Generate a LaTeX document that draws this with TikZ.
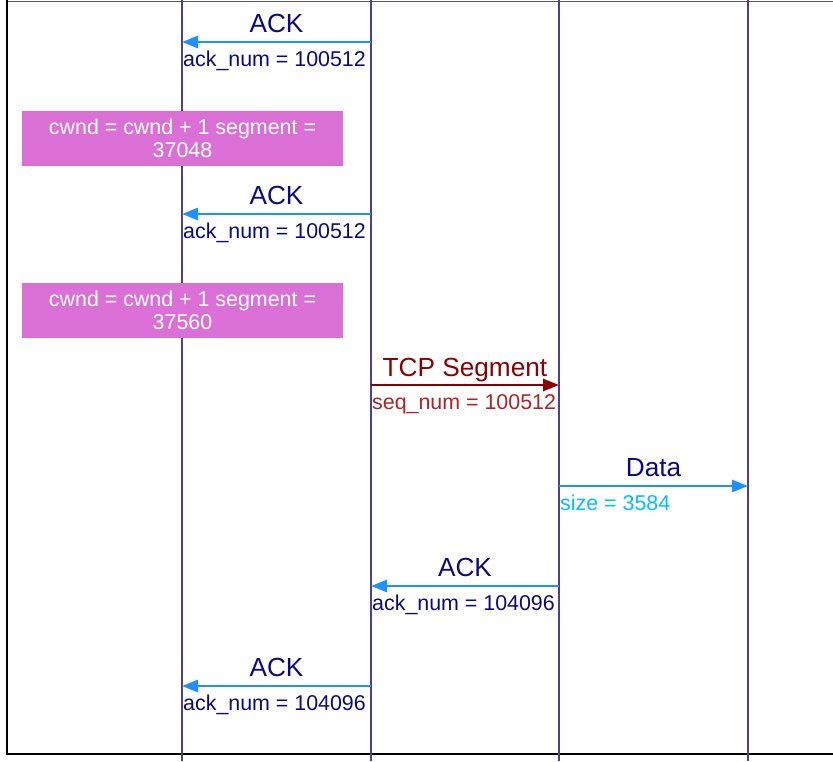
\documentclass[tikz,border=0pt]{standalone}
\usepackage{fontspec}
\setmainfont{Liberation Sans}
\usetikzlibrary{arrows.meta}
\definecolor{lifeblue}{HTML}{4B3F9A}
\definecolor{ackblue}{HTML}{1E90FF}
\definecolor{labnavy}{HTML}{0A0A80}
\definecolor{boxpink}{HTML}{DA70D6}
\definecolor{segred}{HTML}{8B0000}
\definecolor{seqred}{HTML}{B22222}
\definecolor{sizeblue}{HTML}{00BFFF}
\tikzset{
  lifeline/.style={draw=lifeblue, line width=1.8pt},
  msg/.style={line width=2.7pt, -{Triangle[length=16pt,width=12pt]}},
  bigtxt/.style={font=\fontsize{26.2}{31}\selectfont, inner sep=0pt, anchor=base},
  smalltxt/.style={font=\fontsize{21.4}{25}\selectfont, inner sep=0pt, anchor=base west},
  notebox/.style={fill=boxpink, text=white, inner sep=0pt, minimum width=321pt, minimum height=54.5pt, align=center, font=\fontsize{21.4}{22.5}\selectfont},
}
\begin{document}
\begin{tikzpicture}[x=1pt,y=-1pt]
\useasboundingbox (0,0) rectangle (833,761);
% frame
\coordinate (ftl) at (7,1);
\coordinate (ftr) at (833,1);
\coordinate (fbl) at (7,754);
\coordinate (fbr) at (833,754);
\draw[gray!70!black, line width=0.8pt] (ftl) -- (ftr);
\draw[black, line width=2.5pt] (7,0) -- (fbl) -- (fbr);
% lifelines
\foreach \n/\x in {A/182,B/371,C/559,D/748}{
  \coordinate (\n top) at (\x,0);
  \coordinate (\n bot) at (\x,761);
  \draw[lifeline] (\n top) -- (\n bot);
}
% message coordinates
\foreach \n/\x in {A/182,B/371,C/559,D/748}{
  \foreach \i/\y in {1/42,2/214,3/385,4/486,5/586,6/686}{
    \coordinate (\n\i) at (\x,\y);
  }
}
% ACK 1
\draw[msg, ackblue] (B1) -- (A1);
\node[bigtxt, text=labnavy] (l1) at (276.5,32) {ACK};
\node[smalltxt, text=labnavy] (s1) at (183,66.5) {ack\_num = 100512};
% box 1
\node[notebox] (n1) at (182.5,138.3) {cwnd = cwnd + 1 segment =\\37048};
% ACK 2
\draw[msg, ackblue] (B2) -- (A2);
\node[bigtxt, text=labnavy] (l2) at (276.5,204) {ACK};
\node[smalltxt, text=labnavy] (s2) at (183,238.5) {ack\_num = 100512};
% box 2
\node[notebox] (n2) at (182.5,310.3) {cwnd = cwnd + 1 segment =\\37560};
% TCP segment
\draw[msg, segred] (B3) -- (C3);
\node[bigtxt, text=segred] (l3) at (465,376) {TCP Segment};
\node[smalltxt, text=seqred] (s3) at (372,409) {seq\_num = 100512};
% Data
\draw[msg, ackblue] (C4) -- (D4);
\node[bigtxt, text=labnavy] (l4) at (653.5,476) {Data};
\node[smalltxt, text=sizeblue] (s4) at (560,510) {size = 3584};
% ACK 3
\draw[msg, ackblue] (C5) -- (B5);
\node[bigtxt, text=labnavy] (l5) at (465,576) {ACK};
\node[smalltxt, text=labnavy] (s5) at (372,610) {ack\_num = 104096};
% ACK 4
\draw[msg, ackblue] (B6) -- (A6);
\node[bigtxt, text=labnavy] (l6) at (276.5,676) {ACK};
\node[smalltxt, text=labnavy] (s6) at (183,710) {ack\_num = 104096};
\end{tikzpicture}
\end{document}
